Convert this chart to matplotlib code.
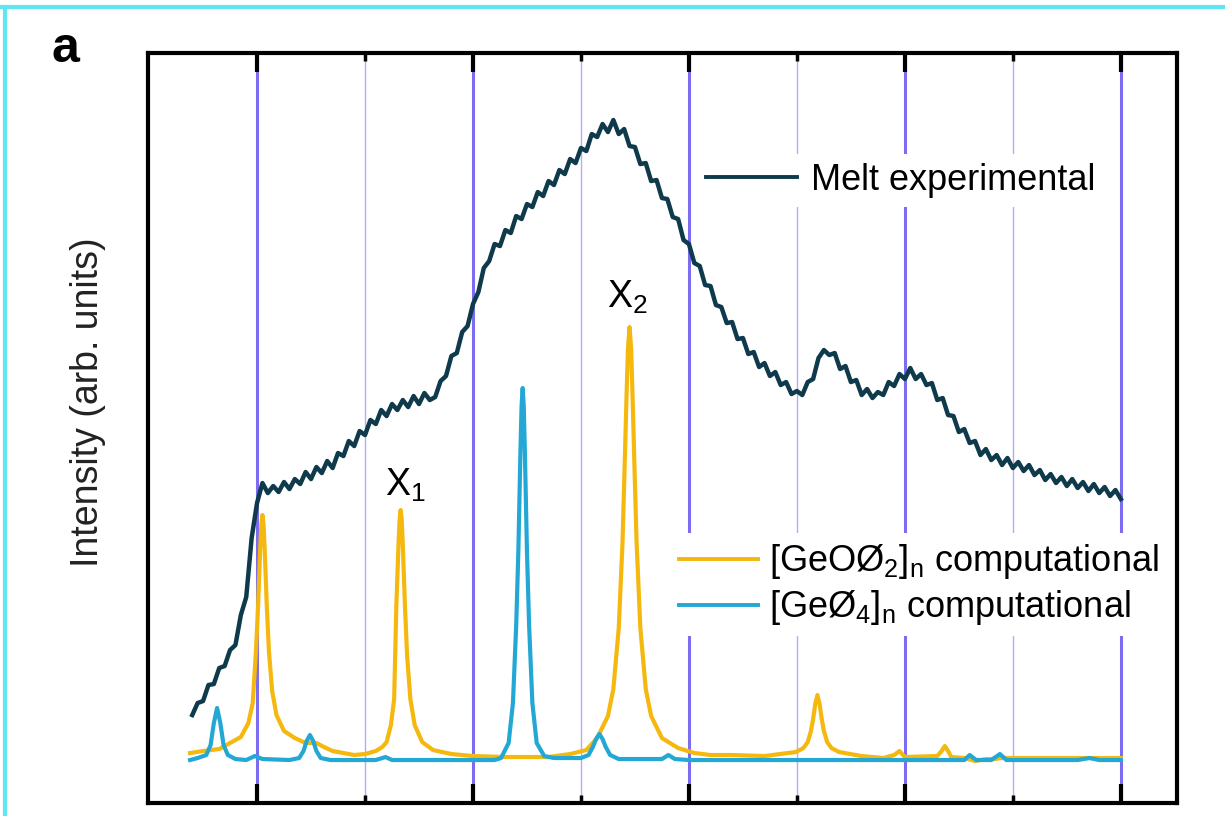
import numpy as np
import matplotlib.pyplot as plt
from matplotlib.lines import Line2D

plt.rcParams['font.family'] = ['Liberation Sans', 'DejaVu Sans']
plt.rcParams['mathtext.fontset'] = 'custom'
plt.rcParams['mathtext.rm'] = 'Liberation Sans'
plt.rcParams['mathtext.it'] = 'Liberation Sans:italic'

# ── Data (x = Raman shift, y = arb. units) ───────────────────────────────────
exp_x = np.arange(140, 1001, 5)
exp_y = [88, 100, 102, 118, 119, 135, 137, 153, 158, 188, 206, 265, 300, 320, 310,
         317, 311, 321, 314, 324, 319, 331, 324, 336, 330, 342, 335, 350, 347, 362,
         357, 372, 368, 383, 379, 393, 387, 399, 393, 403, 396, 407, 399, 410, 403,
         406, 422, 427, 447, 450, 471, 477, 499, 511, 535, 542, 559, 557, 573, 570,
         587, 584, 599, 596, 611, 607, 622, 618, 633, 629, 644, 640, 655, 652, 669,
         666, 679, 671, 683, 669, 674, 657, 656, 639, 640, 622, 623, 605, 604, 586,
         584, 563, 559, 540, 537, 518, 517, 498, 496, 480, 481, 464, 465, 449, 451,
         436, 440, 427, 431, 418, 421, 409, 412, 408, 421, 424, 445, 453, 448, 450,
         434, 437, 421, 423, 408, 414, 405, 411, 408, 421, 417, 429, 424, 435, 424,
         429, 418, 420, 403, 405, 388, 387, 371, 374, 360, 362, 348, 354, 343, 348,
         338, 345, 335, 341, 332, 338, 328, 333, 323, 329, 320, 326, 317, 324, 315,
         321, 312, 319, 310, 316, 307, 313, 304]

geo2_x = [138, 150, 165, 175, 185, 192, 196, 199, 201, 203, 204, 205, 206, 207, 209,
          211, 214, 218, 225, 235, 245, 255, 262, 270, 280, 290, 300, 310, 316, 320,
          324, 327, 329, 331, 332, 333, 334, 335, 337, 339, 342, 346, 353, 363, 380,
          400, 430, 470, 490, 505, 515, 525, 530, 535, 538.5, 541, 542, 543.5, 545,
          546.5, 548, 549, 551.5, 555, 560, 565, 575, 590, 605, 620, 640, 670, 699,
          706, 710, 713, 715, 717, 719, 721, 723, 725, 728, 732, 739, 760, 780, 790,
          795, 800, 830, 834, 837, 840, 843, 855, 865, 875, 883, 890, 1000]
geo2_y = [50, 52, 54, 60, 66, 80, 100, 152, 198, 256, 279, 288, 279, 256, 198,
          152, 112, 88, 72, 65, 60, 60, 56, 52, 50, 48, 49, 52, 56, 61,
          78, 104, 197, 258, 283, 293, 283, 258, 197, 147, 104, 78, 61, 53, 49,
          47, 46, 46, 49, 53, 65, 87, 114, 175, 261, 358, 399, 454, 476,
          454, 399, 358, 261, 175, 114, 87, 65, 55, 50, 48, 48, 47, 51,
          55, 61, 72, 84, 99, 108, 99, 84, 72, 61, 55, 51, 47, 45, 48,
          52, 46, 47, 52, 57, 52, 46, 45, 42, 44, 44, 45, 45]

geo4_x = [138, 145, 153, 157, 160, 163, 166, 169, 173, 180, 190, 198, 205, 230, 239,
          243, 246, 249, 252, 255, 259, 268, 310, 319, 325, 420, 426, 433, 437, 440,
          442, 444, 445, 446, 447, 448, 450, 452, 455, 459, 466, 475, 500, 507, 511,
          514, 517, 520, 523, 527, 535, 575, 581, 587, 600, 855, 860, 866, 880, 888,
          894, 960, 971, 980, 1000]
geo4_y = [43, 45, 48, 58, 80, 95, 80, 58, 48, 44, 43, 47, 44, 43, 45,
          52, 62, 68, 62, 52, 45, 43, 43, 46, 43, 43, 45, 60, 100, 177,
          251, 354, 397, 415, 397, 354, 251, 177, 100, 60, 47, 45, 45, 48, 56,
          64, 69, 64, 56, 48, 44, 44, 48, 44, 43, 43, 48, 43, 43, 49,
          43, 43, 45, 43, 43]

major_x = [200, 400, 600, 800, 1000]
minor_x = [300, 500, 700, 900]

C_EXP = '#0e3a4c'
C_GEO2 = '#f5b80f'
C_GEO4 = '#23a8d6'

# ── Figure ───────────────────────────────────────────────────────────────────
fig = plt.figure(figsize=(12.25, 8.16), dpi=100)
ax = fig.add_axes([0.1208, 0.0159, 0.8400, 0.9191])

for xv in major_x:
    ax.axvline(xv, color='#7b6cf0', linewidth=2.2, zorder=1)
for xv in minor_x:
    ax.axvline(xv, color='#b3adf2', linewidth=1.0, zorder=1)

ax.plot(geo2_x, geo2_y, color=C_GEO2, linewidth=3.0, zorder=3,
        solid_joinstyle='round')
ax.plot(geo4_x, geo4_y, color=C_GEO4, linewidth=3.0, zorder=4,
        solid_joinstyle='round')
ax.plot(exp_x, exp_y, color=C_EXP, linewidth=3.2, zorder=5)

ax.set_xlim(99, 1052)
ax.set_ylim(0, 750)
ax.set_xticks(major_x)
ax.set_xticks(minor_x, minor=True)
ax.set_yticks([])
ax.tick_params(axis='x', which='major', direction='in', length=14, width=3,
               top=True, bottom=True, labelbottom=False, color='black')
ax.tick_params(axis='x', which='minor', direction='in', length=6, width=2.5,
               top=True, bottom=True, color='black')
for sp in ax.spines.values():
    sp.set_linewidth(3)
    sp.set_color('black')

ax.set_ylabel('Intensity (arb. units)', fontsize=27, color='#222222', labelpad=30)
ax.yaxis.label.set_y(0.535)

ax.text(337, 318, 'X$_1$', fontsize=27, ha='center', va='center', zorder=6)
ax.text(543, 506, 'X$_2$', fontsize=27, ha='center', va='center', zorder=6)

leg1 = ax.legend([Line2D([], [], color=C_EXP, linewidth=2.8)], ['Melt experimental'],
                 loc='center left', bbox_to_anchor=(0.534, 0.830), fontsize=26,
                 frameon=True, facecolor='white', edgecolor='none', framealpha=1,
                 handlelength=2.5, handletextpad=0.4, borderpad=0.25, borderaxespad=0)
ax.add_artist(leg1)
ax.legend([Line2D([], [], color=C_GEO2, linewidth=2.8),
           Line2D([], [], color=C_GEO4, linewidth=2.8)],
          ['[GeOØ$_2$]$_\\mathrm{n}$ computational', '[GeØ$_4$]$_\\mathrm{n}$ computational'],
          loc='center left', bbox_to_anchor=(0.507, 0.291), fontsize=26,
          frameon=True, facecolor='white', edgecolor='none', framealpha=1,
          handlelength=2.2, handletextpad=0.3, borderpad=0.25, borderaxespad=0,
          labelspacing=0.2)

fig.text(0.042, 0.94, 'a', fontsize=36, fontweight='bold', ha='left', va='center')

# thin cyan border of the screenshot
fig.add_artist(Line2D([0, 1], [0.991, 0.991], color='#5fe6f2', linewidth=3,
                      transform=fig.transFigure))
fig.add_artist(Line2D([0.004, 0.004], [0, 0.991], color='#5fe6f2', linewidth=3,
                      transform=fig.transFigure))

plt.savefig('out.png', dpi=100)
plt.close()
